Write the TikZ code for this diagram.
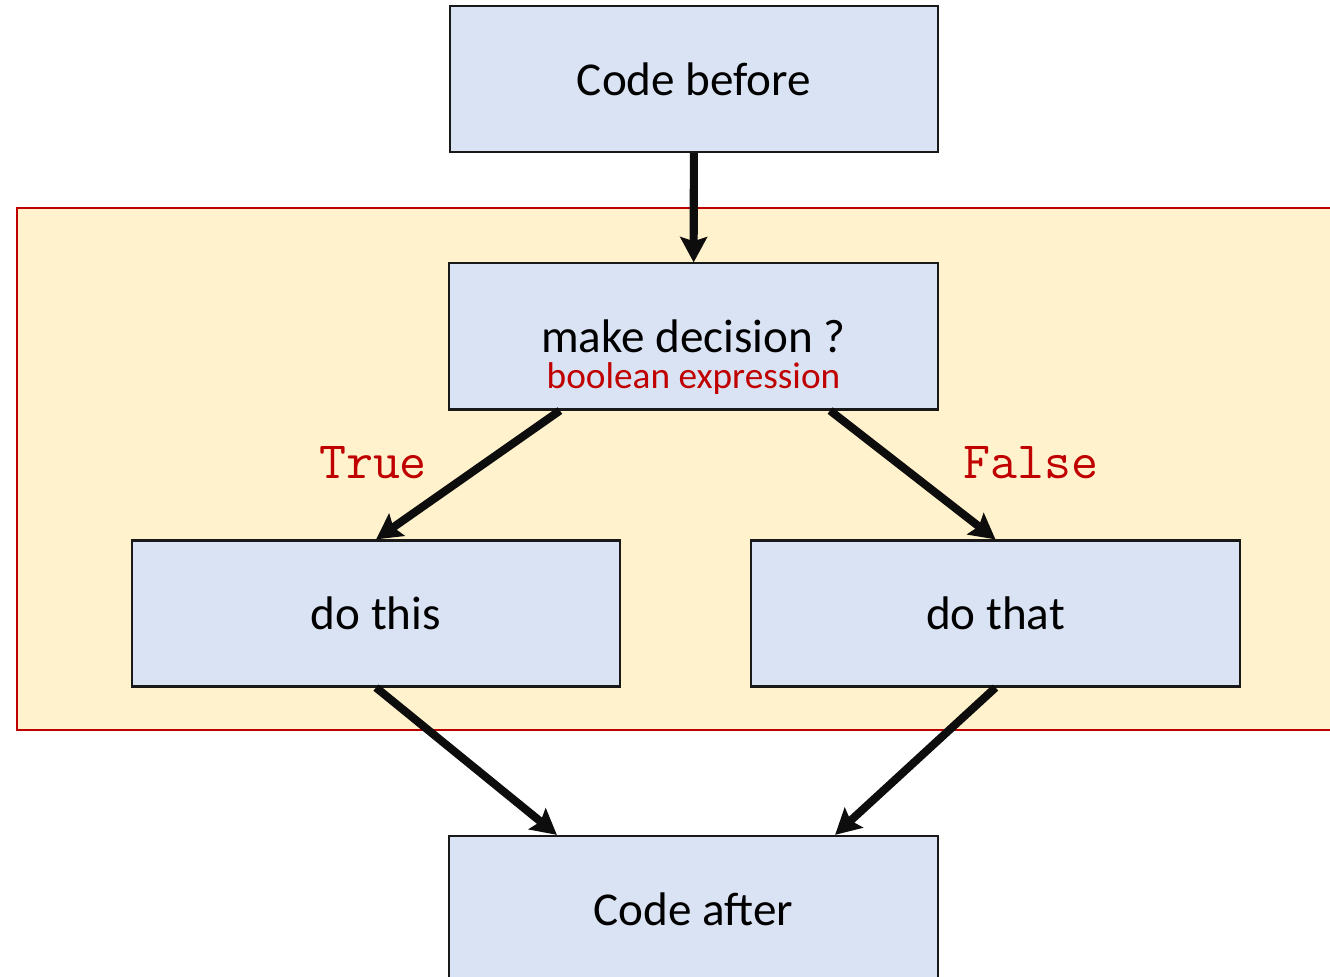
\documentclass[tikz,border=0pt]{standalone}
\usepackage{fontspec}
\setmainfont{Carlito}
\usetikzlibrary{arrows.meta}
\definecolor{boxblue}{HTML}{DAE3F3}
\definecolor{frameyellow}{HTML}{FFF2CC}
\definecolor{darkred}{HTML}{C00000}
\begin{document}
\begin{tikzpicture}[x=0.01cm, y=-0.01cm,
  stepbox/.style={draw=black!90, fill=boxblue, line width=0.6pt,
    minimum width=4.88cm, minimum height=1.46cm, font=\fontsize{13.4}{16}\selectfont},
  flow/.style={line width=2.3pt, black!95, -{Stealth[length=7.2pt, width=7.6pt, inset=1.2pt]}},
  branch/.style={text=darkred, font=\ttfamily\fontsize{14.9}{18}\selectfont}]
\clip (0,0) rectangle (1330,977);
\draw[darkred, fill=frameyellow, line width=0.6pt] (17,208) rectangle (1345,730);
\node[stepbox] (before)   at (694,79)    {Code before};
\node[stepbox] (decision) at (693.5,336.5) {make decision ?};
\node[text=darkred, inner sep=0pt, font=\fontsize{10.6}{12}\selectfont] (expr) at (693.5,379) {boolean expression};
\node[stepbox] (dothis)   at (376,613.5) {do this};
\node[stepbox] (dothat)   at (995.5,613.5) {do that};
\node[stepbox] (after)    at (693.5,909) {Code after};
\node[branch] (true)  at (373,463)  {True};
\node[branch] (false) at (1031,463) {False};
\draw[flow] (before) -- (decision);
\draw[flow] ([xshift=-1.335cm]decision.south) -- (dothis.north);
\draw[flow] ([xshift=1.365cm]decision.south) -- (dothat.north);
\draw[flow] (dothis.south) -- ([xshift=-1.365cm]after.north);
\draw[flow] (dothat.south) -- ([xshift=1.415cm]after.north);
\end{tikzpicture}
\end{document}
